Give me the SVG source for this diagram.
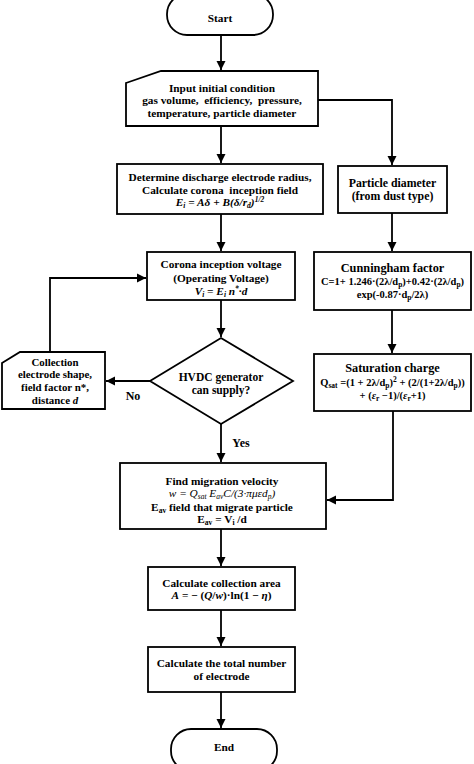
<svg xmlns="http://www.w3.org/2000/svg" width="474" height="764" viewBox="0 0 474 764">
<style>
.b{fill:#fff;stroke:#000;stroke-width:1.8}
.c{fill:none;stroke:#000;stroke-width:1.8}
text{font-family:"Liberation Serif","Times New Roman",serif;font-weight:bold;font-size:11.3px;text-anchor:middle;fill:#000}
.i{font-style:italic}
.s{font-size:7.5px}
.f{font-size:10.5px}
.t{font-size:12.3px}
</style>
<defs>
<marker id="a" markerWidth="10" markerHeight="10" refX="9" refY="5" orient="auto" markerUnits="userSpaceOnUse">
<path d="M0,0.5 L9,5 L0,9.5 Z" fill="#000"/>
</marker>
</defs>
<rect width="474" height="764" fill="#fff"/>
<g id="connectors">
<path class="c" d="M221,35 V70" marker-end="url(#a)"/>
<path class="c" d="M221,126 V163" marker-end="url(#a)"/>
<path class="c" d="M318,100 H392 V165" marker-end="url(#a)"/>
<path class="c" d="M221,214 V251" marker-end="url(#a)"/>
<path class="c" d="M392,213 V251" marker-end="url(#a)"/>
<path class="c" d="M392,310 V353" marker-end="url(#a)"/>
<path class="c" d="M221,300 V337" marker-end="url(#a)"/>
<path class="c" d="M150,381 H106" marker-end="url(#a)"/>
<path class="c" d="M50,352 V278 H146" marker-end="url(#a)"/>
<path class="c" d="M221,424 V462" marker-end="url(#a)"/>
<path class="c" d="M393,411 V500 H327" marker-end="url(#a)"/>
<path class="c" d="M221,529 V566" marker-end="url(#a)"/>
<path class="c" d="M221,610 V646" marker-end="url(#a)"/>
<path class="c" d="M221,692 V728" marker-end="url(#a)"/>
<text x="133" y="400" style="font-size:12px">No</text>
<text x="241" y="447" style="font-size:12px">Yes</text>
</g>
<g id="start">
<rect class="b" x="167" y="-6" width="106" height="41" rx="20"/>
<text x="220" y="22">Start</text>
</g>
<g id="input">
<path class="b" d="M126,83 L161,71 H318 V126 H126 Z"/>
<text x="222" y="91.5">Input initial condition</text>
<text x="222" y="104" xml:space="preserve">gas volume,  efficiency,  pressure,</text>
<text x="222" y="116.5">temperature, particle diameter</text>
</g>
<g id="determine">
<rect class="b" x="117" y="164" width="206" height="50"/>
<text x="220" y="181">Determine discharge electrode radius,</text>
<text x="220" y="194" xml:space="preserve">Calculate corona  inception field</text>
<text x="220" y="206" class="i">E<tspan class="s" baseline-shift="-2">i</tspan> = Aδ + B(δ/r<tspan class="s" baseline-shift="-2">d</tspan>)<tspan class="s" baseline-shift="4">1/2</tspan></text>
</g>
<g id="particle">
<rect class="b" x="338" y="166" width="109" height="47"/>
<text x="392.5" y="187" style="font-size:11.8px">Particle diameter</text>
<text x="392.5" y="200" style="font-size:11.8px">(from dust type)</text>
</g>
<g id="corona">
<rect class="b" x="147" y="252" width="148" height="48"/>
<text x="221" y="268">Corona inception voltage</text>
<text x="221" y="282">(Operating Voltage)</text>
<text x="221" y="295" class="i">V<tspan class="s" baseline-shift="-2">i</tspan> = E<tspan class="s" baseline-shift="-2">i</tspan> n<tspan class="s" baseline-shift="4">*</tspan>·d</text>
</g>
<g id="cunningham">
<rect class="b" x="314" y="252" width="157" height="58"/>
<text x="392.5" y="272" class="t">Cunningham factor</text>
<text x="392.5" y="285" class="f">C=1+ 1.246·(2λ/d<tspan class="s" baseline-shift="-2">p</tspan>)+0.42·(2λ/d<tspan class="s" baseline-shift="-2">p</tspan>)</text>
<text x="392.5" y="298" class="f">exp(-0.87·d<tspan class="s" baseline-shift="-2">p</tspan>/2λ)</text>
</g>
<g id="hvdc">
<path class="b" d="M221,338 L293,381 L221,424 L150,381 Z"/>
<text x="221" y="381" style="font-size:11.5px">HVDC generator</text>
<text x="221" y="394" style="font-size:11.5px">can supply?</text>
</g>
<g id="saturation">
<rect class="b" x="314" y="354" width="157" height="57"/>
<text x="392.5" y="372" class="t">Saturation charge</text>
<text x="392.5" y="386" class="f">Q<tspan class="s" baseline-shift="-2">sat</tspan> =(1 + 2λ/d<tspan class="s" baseline-shift="-2">p</tspan>)<tspan class="s" baseline-shift="4">2</tspan> + (2/(1+2λ/d<tspan class="s" baseline-shift="-2">p</tspan>))</text>
<text x="392.5" y="399" class="f">+ (<tspan class="i">ε</tspan><tspan class="s" baseline-shift="-2">r</tspan> −1)/(<tspan class="i">ε</tspan><tspan class="s" baseline-shift="-2">r</tspan>+1)</text>
</g>
<g id="collection">
<path class="b" d="M2,363 L20,352 H105 V409 H2 Z"/>
<text x="55" y="366" style="font-size:10.9px">Collection</text>
<text x="55" y="378" style="font-size:10.9px">electrode shape,</text>
<text x="55" y="391" style="font-size:10.9px">field factor n*,</text>
<text x="55" y="404" style="font-size:10.9px">distance <tspan class="i">d</tspan></text>
</g>
<g id="migration">
<rect class="b" x="120" y="463" width="206" height="66"/>
<text x="222" y="485">Find migration velocity</text>
<text x="222" y="497" class="i" style="font-weight:normal">w = Q<tspan class="s" baseline-shift="-2">sat</tspan> E<tspan class="s" baseline-shift="-2">av</tspan>C/(3·πμεd<tspan class="s" baseline-shift="-2">p</tspan>)</text>
<text x="222" y="511">E<tspan class="s" baseline-shift="-2">av</tspan> field that migrate particle</text>
<text x="222" y="523">E<tspan class="s" baseline-shift="-2">av</tspan> = V<tspan class="s" baseline-shift="-2">i</tspan> /d</text>
</g>
<g id="area">
<rect class="b" x="148" y="567" width="147" height="43"/>
<text x="221.5" y="587">Calculate collection area</text>
<text x="221.5" y="599"><tspan class="i">A</tspan> = − (<tspan class="i">Q</tspan>/<tspan class="i">w</tspan>)·ln(1 − <tspan class="i">η</tspan>)</text>
</g>
<g id="total">
<rect class="b" x="148" y="647" width="147" height="45"/>
<text x="221.5" y="667">Calculate the total number</text>
<text x="221.5" y="680">of electrode</text>
</g>
<g id="end">
<rect class="b" x="171" y="729" width="106" height="42" rx="20"/>
<text x="224" y="751">End</text>
</g>
</svg>
